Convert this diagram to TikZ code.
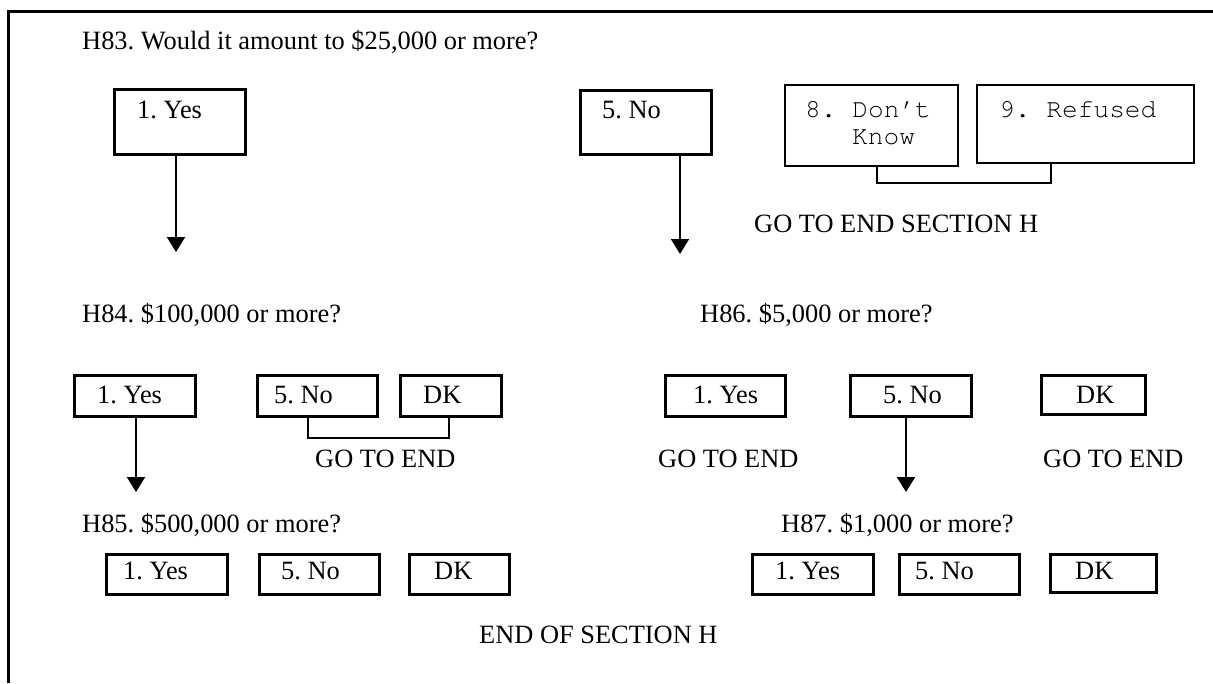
\documentclass[tikz,border=0pt]{standalone}
\usepackage{fontspec}
\setmainfont{Liberation Serif}
\setmonofont{TeX Gyre Cursor}
\usetikzlibrary{arrows.meta,calc}
\frenchspacing
\begin{document}
\frenchspacing
\begin{tikzpicture}[x=1pt,y=-1pt,
  txt/.style={anchor=base west,inner sep=0pt,font=\fontsize{26.4}{31.7}\selectfont},
  mono/.style={anchor=base west,inner sep=0pt,font=\fontsize{26.2}{27}\selectfont\ttfamily},
  box/.style={draw,line width=2.6pt,anchor=north west,inner sep=0pt},
  mbox/.style={draw,line width=2pt,anchor=north west,inner sep=0pt},
  arr/.style={line width=2pt,-{Triangle[width=18pt,length=15pt]}},
  brk/.style={line width=2pt}]
\useasboundingbox (0,0) rectangle (1213,683);
\fill[white] (0,0) rectangle (1213,683);
\draw[line width=3pt] (1213,11) -- (8,11) -- (8,683);

% ---- H83 ----
\node[txt] (h83) at (82,49) {H83. Would it amount to \$25,000 or more?};
\node[box,minimum width=131pt,minimum height=65pt] (y1) at (113,88) {};
\node[txt] (ty1) at (137,118) {1. Yes};
\node[box,minimum width=131pt,minimum height=64pt] (n1) at (579,89) {};
\node[txt] (tn1) at (602,118) {5. No};
\node[mbox,minimum width=173pt,minimum height=81pt] (d1) at (784,84) {};
\node[mono] (td1a) at (805,117) {8. Don’t};
\node[mono] (td1b) at (852,144) {Know};
\node[mbox,minimum width=217pt,minimum height=78pt] (r1) at (976,84) {};
\node[mono] (tr1) at (999,117) {9. Refused};
\draw[brk] ([xshift=5.5pt]d1.south) -- ++(0,16) -| ([xshift=-34.5pt]r1.south);
\node[txt] (go1) at (754,232) {GO TO END SECTION H};
\coordinate (a1) at (176,252);
\coordinate (a2) at (680,254);
\draw[arr] (y1.south -| a1) -- (a1);
\draw[arr] (n1.south -| a2) -- (a2);

% ---- H84 ----
\node[txt] (h84) at (82,322) {H84. \$100,000 or more?};
\node[box,minimum width=121pt,minimum height=41pt] (y2) at (73,374) {};
\node[txt] (ty2) at (97,403) {1. Yes};
\node[box,minimum width=120pt,minimum height=41pt] (n2) at (256,374) {};
\node[txt] (tn2) at (274,403) {5. No};
\node[box,minimum width=101pt,minimum height=41pt] (k2) at (399,374) {};
\node[txt] (tk2) at (423,403) {DK};
\draw[brk] ([xshift=-9pt]n2.south) -- ++(0,20) -| ([xshift=-1.5pt]k2.south);
\node[txt] (go2) at (315,467) {GO TO END};
\coordinate (a3) at (136,492);
\draw[arr] (y2.south -| a3) -- (a3);

% ---- H86 ----
\node[txt] (h86) at (700,322) {H86. \$5,000 or more?};
\node[box,minimum width=120pt,minimum height=41pt] (y3) at (664,374) {};
\node[txt] (ty3) at (693,403) {1. Yes};
\node[box,minimum width=121pt,minimum height=41pt] (n3) at (849,374) {};
\node[txt] (tn3) at (883,403) {5. No};
\node[box,minimum width=104pt,minimum height=39pt] (k3) at (1040,374) {};
\node[txt] (tk3) at (1076,403) {DK};
\node[txt] (go3) at (658,467) {GO TO END};
\node[txt] (go4) at (1043,467) {GO TO END};
\coordinate (a4) at (906,492);
\draw[arr] (n3.south -| a4) -- (a4);

% ---- H85 ----
\node[txt] (h85) at (82,532) {H85. \$500,000 or more?};
\node[box,minimum width=121pt,minimum height=40pt] (y4) at (105,553) {};
\node[txt] (ty4) at (123,579) {1. Yes};
\node[box,minimum width=120pt,minimum height=40pt] (n4) at (258,553) {};
\node[txt] (tn4) at (281,579) {5. No};
\node[box,minimum width=100pt,minimum height=40pt] (k4) at (408,553) {};
\node[txt] (tk4) at (434,579) {DK};

% ---- H87 ----
\node[txt] (h87) at (781,532) {H87. \$1,000 or more?};
\node[box,minimum width=121pt,minimum height=40pt] (y5) at (751,553) {};
\node[txt] (ty5) at (775,579) {1. Yes};
\node[box,minimum width=120pt,minimum height=40pt] (n5) at (898,553) {};
\node[txt] (tn5) at (915,579) {5. No};
\node[box,minimum width=106pt,minimum height=38pt] (k5) at (1049,553) {};
\node[txt] (tk5) at (1075,579) {DK};

\node[txt] (end) at (479,643) {END OF SECTION H};
\end{tikzpicture}
\end{document}
